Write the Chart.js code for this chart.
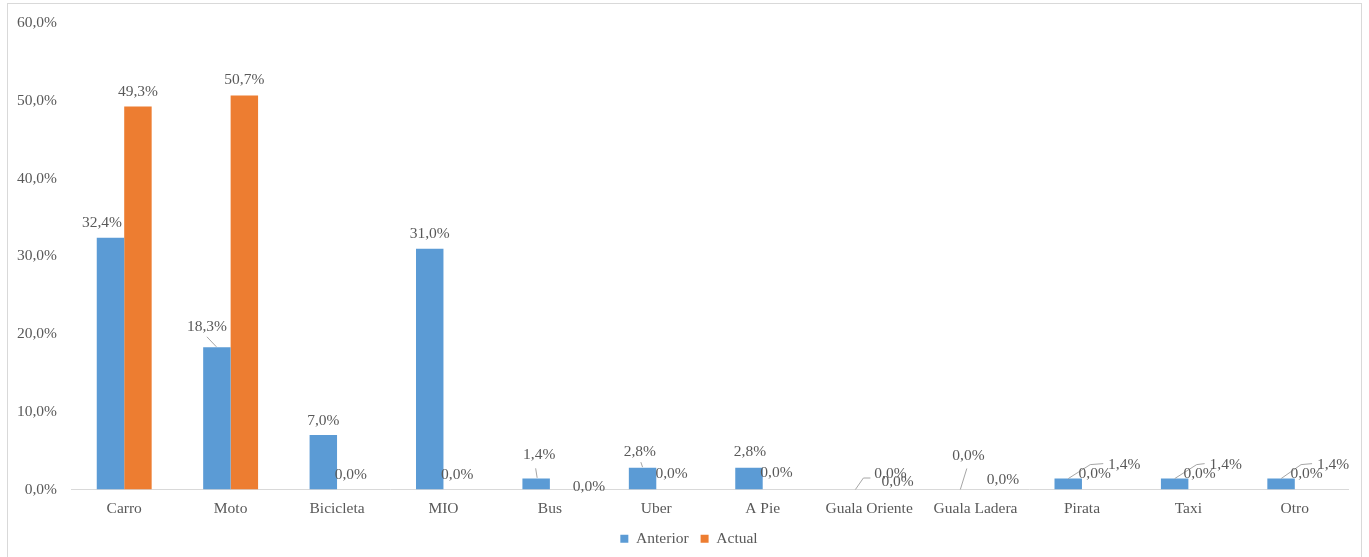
<!DOCTYPE html>
<html>
<head>
<meta charset="utf-8">
<script src="https://cdn.jsdelivr.net/npm/chart.js@4/dist/chart.umd.min.js"></script>
<style>
  html, body { margin: 0; padding: 0; background: #ffffff; }
  #wrap { width: 1369px; height: 557px; position: relative; }
</style>
</head>
<body>
<div id="wrap"><canvas id="chart" width="1369" height="557"></canvas></div>
<script>
// Medio de transporte: participación anterior vs. actual (%)
const categories = ['Carro', 'Moto', 'Bicicleta', 'MIO', 'Bus', 'Uber', 'A Pie',
  'Guala Oriente', 'Guala Ladera', 'Pirata', 'Taxi', 'Otro'];
const anterior = [32.4, 18.3, 7.0, 31.0, 1.4, 2.8, 2.8, 0.0, 0.0, 1.4, 1.4, 1.4];
const actual   = [49.3, 50.7, 0.0, 0.0, 0.0, 0.0, 0.0, 0.0, 0.0, 0.0, 0.0, 0.0];
const seriesNames = ['Anterior', 'Actual'];
const yMin = 0, yMax = 60, yStep = 10;

// Nudges for value labels [dx, dy] from their default spot above each bar
const nudgeAnterior = [[-8.5, 0], [-10, -5.5], [0, 0], [0, 0], [3, -9.5], [-2.7, -1], [1, -1],
  [35, -0.7], [6.7, -19.3], [56, 0.5], [51, 0.5], [52, 0.5]];
const nudgeActual = [[0, 0], [0, -1], [0, 0], [0, 0], [25.4, 11.7], [1.6, -0.7], [0, -1.7],
  [14.7, 6.7], [13.7, 5], [-1, -0.7], [-2.5, -0.7], [-2, -0.7]];
// Leader lines (points relative to the top centre of the bar), null = none
const leadersAnterior = [null, [[-10, -10.5], [-0.5, -0.5]], null, null,
  [[-0.5, -10.3], [1, -0.8]], [[-1.7, -5.6], [0, -0.6]], null,
  [[0, 0], [8, -11.5], [15, -11.5]], [[-1.5, 0], [5, -21]],
  [[0, 0], [22, -14], [35, -15]], [[0, 0], [22, -14], [30, -15]], [[0, 0], [20, -14], [31, -15]]];

const FONT = '"Liberation Serif", "Times New Roman", serif';
const TEXT = '#595959';
const fmt = v => v.toFixed(1).replace('.', ',') + '%';

const frame = {
  id: 'frame',
  beforeDraw(chart) {
    const c = chart.ctx;
    c.save();
    c.fillStyle = '#ffffff';
    c.fillRect(0, 0, chart.width, chart.height);
    c.strokeStyle = '#D9D9D9';
    c.lineWidth = 1;
    c.strokeRect(7.5, 3.5, 1354, 600);
    c.restore();
  }
};

// Centre the legend on the whole frame rather than on the padded box
const legendShift = {
  id: 'legendShift',
  afterLayout(chart) {
    if (chart.legend) {
      chart.legend.left += 15;
      chart.legend.right += 15;
    }
  }
};

const valueLabels = {
  id: 'valueLabels',
  afterDatasetsDraw(chart) {
    const c = chart.ctx;
    const nudges = [nudgeAnterior, nudgeActual];
    const leaders = [leadersAnterior, null];
    c.save();
    c.font = '15.5px ' + FONT;
    c.fillStyle = TEXT;
    c.textAlign = 'center';
    c.textBaseline = 'middle';
    chart.data.datasets.forEach((ds, di) => {
      const meta = chart.getDatasetMeta(di);
      meta.data.forEach((bar, i) => {
        const bx = bar.x, by = bar.y;
        const lp = leaders[di] && leaders[di][i];
        if (lp) {
          c.beginPath();
          c.strokeStyle = '#A6A6A6';
          c.lineWidth = 1;
          lp.forEach((p, k) => {
            const px = bx + p[0], py = by + p[1];
            if (k === 0) c.moveTo(px, py); else c.lineTo(px, py);
          });
          c.stroke();
        }
        const n = nudges[di][i];
        c.fillText(fmt(ds.data[i]), bx + n[0], by - 14.5 + n[1]);
      });
    });
    c.restore();
  }
};

new Chart(document.getElementById('chart'), {
  type: 'bar',
  data: {
    labels: categories,
    datasets: [
      { label: seriesNames[0], data: anterior, backgroundColor: '#5B9BD5' },
      { label: seriesNames[1], data: actual, backgroundColor: '#ED7D31' }
    ]
  },
  options: {
    responsive: false,
    animation: false,
    devicePixelRatio: 1,
    categoryPercentage: 0.516,
    barPercentage: 1,
    layout: { padding: { left: 0, right: 21, top: 19.5, bottom: 0.5 } },
    plugins: {
      tooltip: { enabled: false },
      legend: {
        position: 'bottom',
        labels: {
          boxWidth: 8, boxHeight: 8, padding: 12,
          color: TEXT, font: { family: FONT, size: 15.5 }
        }
      }
    },
    scales: {
      x: {
        grid: { display: false, drawTicks: false },
        border: { display: true, color: '#D9D9D9', width: 1 },
        ticks: { color: TEXT, font: { family: FONT, size: 15.5 }, padding: 10.5, autoSkip: false, maxRotation: 0 },
        afterFit(s) { s.height = 29.5; }
      },
      y: {
        min: yMin, max: yMax,
        grid: { display: false, drawTicks: false },
        border: { display: false },
        ticks: { stepSize: yStep, color: TEXT, font: { family: FONT, size: 15.5 }, padding: 14, callback: v => fmt(v) },
        afterFit(s) { s.width = 71; }
      }
    }
  },
  plugins: [frame, legendShift, valueLabels]
});
</script>
</body>
</html>
